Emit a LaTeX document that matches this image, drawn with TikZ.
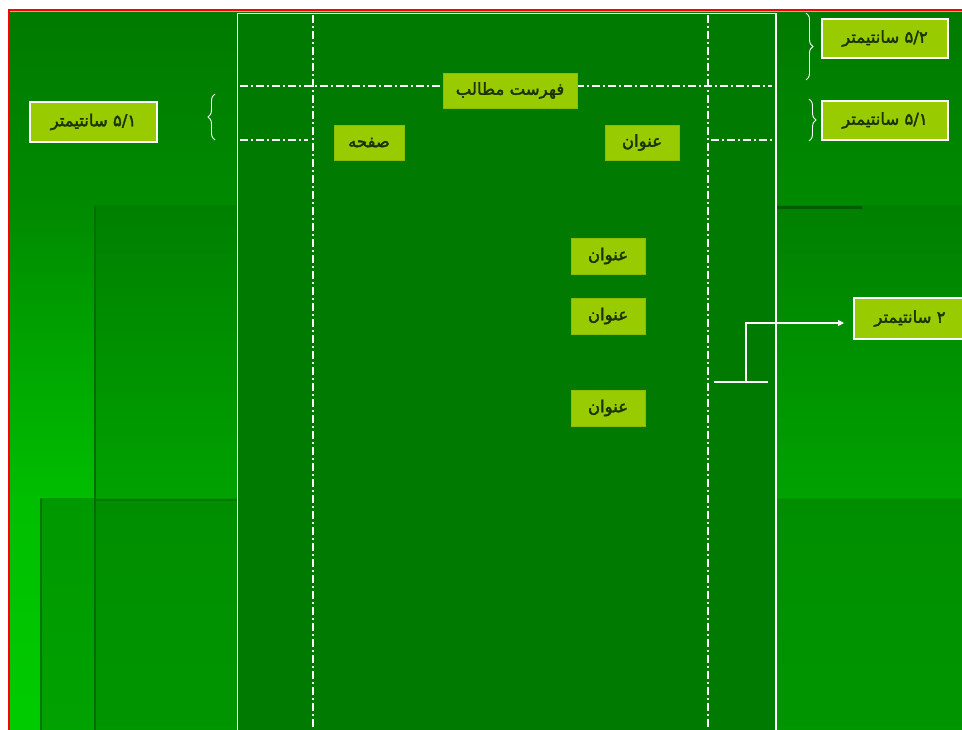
\documentclass[tikz,border=0pt]{standalone}
\usepackage{fontspec}
\usetikzlibrary{decorations.pathreplacing,arrows.meta}
\TeXXeTstate=1
\newfontfamily\fa[Script=Arabic,FakeBold=2.2]{DejaVu Sans}
\definecolor{pagegreen}{RGB}{0,122,0}
\definecolor{lbl}{RGB}{153,204,0}
\definecolor{lbledge}{RGB}{140,190,0}
\definecolor{txt}{RGB}{28,50,0}
\definecolor{shadow}{RGB}{0,90,0}
\definecolor{gA}{RGB}{0,122,0}
\definecolor{gB}{RGB}{0,138,0}
\definecolor{gC}{RGB}{0,190,0}
\definecolor{gD}{RGB}{0,204,0}
\definecolor{gE}{RGB}{0,128,0}
\definecolor{gF}{RGB}{0,162,0}
\definecolor{gG}{RGB}{0,152,0}
\definecolor{gH}{RGB}{0,142,0}
\definecolor{gI}{RGB}{0,150,0}
\definecolor{edgeA}{RGB}{0,120,0}
\definecolor{edgeB}{RGB}{0,110,0}
\definecolor{lineblue}{RGB}{170,190,220}
\tikzset{
  lblbox/.style={fill=lbl, draw=white, line width=1.2pt, inner sep=0pt, minimum height=39pt, text=txt, font=\fa\fontsize{16.5}{18}\selectfont},
  cbox/.style={fill=lbl, draw=lbledge, line width=0.6pt, inner sep=0pt, minimum height=35pt, text=txt, font=\fa\fontsize{16.5}{18}\selectfont},
  dd/.style={white, line width=1.1pt, dash pattern=on 8pt off 3pt on 2pt off 3pt},
  brc/.style={white, line width=0.9pt, decorate, decoration={brace, amplitude=7pt}},
  conn/.style={white, line width=1.1pt}
}
\begin{document}
\begin{tikzpicture}[x=1pt,y=-1pt]
\useasboundingbox (0,0) rectangle (962,730);
\clip (0,0) rectangle (962,730);
\fill[white] (0,0) rectangle (962,730);
% background layers
\shade[top color=gA, bottom color=gB] (9,10) rectangle (970,206);
\shade[top color=gB, bottom color=gC] (9,205) rectangle (970,499);
\shade[top color=gC, bottom color=gD] (9,498) rectangle (970,740);
\shade[top color=gE, bottom color=gF] (95,206) rectangle (970,499);
\shade[top color=gG, bottom color=gF] (40,498) rectangle (970,740);
\shade[top color=gH, bottom color=gI] (95,499) rectangle (970,740);
\draw[edgeA, line width=1.5pt] (41,499) -- (41,740);
\draw[edgeA, line width=1.5pt] (95,500) -- (240,500);
\draw[edgeB, line width=2pt] (95,206) -- (95,740);
\draw[shadow, line width=3pt] (776,207.5) -- (862,207.5);
% red frame
\draw[lineblue, line width=0.8pt] (9.5,11.6) -- (970,11.6);
\draw[red, line width=2pt] (8.6,740) -- (8.6,9.8) -- (970,9.8);
% page
\filldraw[fill=pagegreen, draw=white, line width=1.3pt] (237.5,13.5) rectangle (776,745);
% dash-dot guides
\draw[dd] (313,15) -- (313,735);
\draw[dd] (708,15) -- (708,735);
\draw[dd] (240,86) -- (772,86);
\draw[dd] (240,140) -- (308,140);
\draw[dd] (711,140) -- (772,140);
% centre boxes
\node[cbox, minimum width=134pt] (title) at (510,90.5) {\beginR فهرست مطالب\endR};
\node[cbox, minimum width=70pt] (page) at (369,142.5) {صفحه};
\node[cbox, minimum width=74pt] (t0) at (642,142.5) {عنوان};
\node[cbox, minimum width=74pt, minimum height=36pt] (t1) at (608,256) {عنوان};
\node[cbox, minimum width=74pt, minimum height=36pt] (t2) at (608,316) {عنوان};
\node[cbox, minimum width=74pt, minimum height=36pt] (t3) at (608,408) {عنوان};
% side labels
\node[lblbox, minimum width=126pt] (top25) at (885,38.5) {\beginR سانتیمتر\endR\ ۵/۲};
\node[lblbox, minimum width=126pt] (r15) at (885,120.5) {\beginR سانتیمتر\endR\ ۵/۱};
\node[lblbox, minimum width=127pt, minimum height=40pt] (l15) at (93.5,122) {\beginR سانتیمتر\endR\ ۵/۱};
\node[lblbox, minimum width=112pt, minimum height=41pt] (two) at (910,318.5) {\beginR سانتیمتر\endR\ ۲};
% braces
\coordinate (b1a) at (806,13);
\coordinate (b1b) at (806,80);
\draw[brc] (b1a) -- (b1b);
\coordinate (b2a) at (809,99);
\coordinate (b2b) at (809,141);
\draw[brc] (b2a) -- (b2b);
\coordinate (b3a) at (215,140);
\coordinate (b3b) at (215,94);
\draw[brc] (b3a) -- (b3b);
% bracket arrow
\coordinate (m1) at (714,382);
\coordinate (m2) at (768,382);
\coordinate (m3) at (746,382);
\coordinate (m4) at (746,323);
\coordinate (m5) at (844,323);
\draw[conn] (m1) -- (m2);
\draw[conn, -{Triangle[length=6pt,width=6pt]}] (m3) -- (m4) -- (m5);
\end{tikzpicture}
\end{document}
